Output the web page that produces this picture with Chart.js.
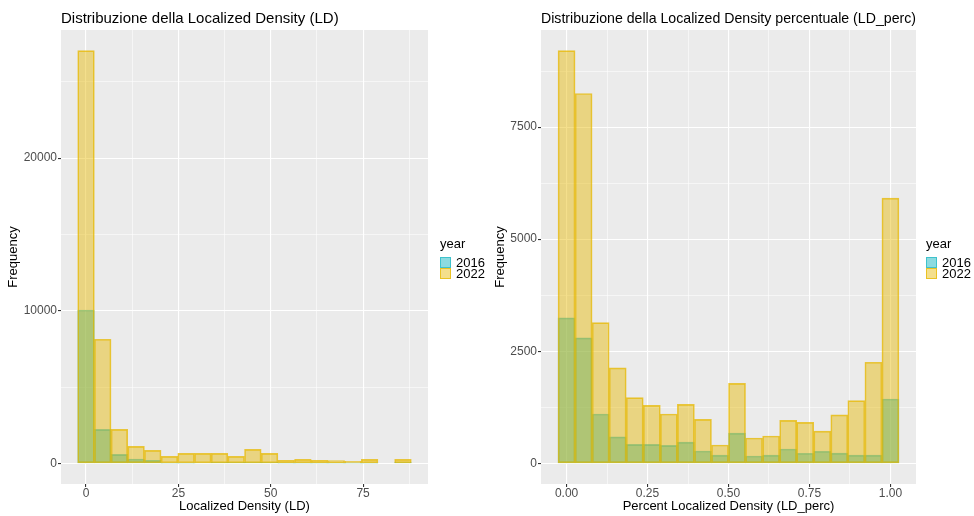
<!DOCTYPE html>
<html>
<head>
<meta charset="utf-8">
<script src="https://cdn.jsdelivr.net/npm/chart.js@4"></script>
<style>
  body { margin: 0; background: #fff; width: 974px; height: 516px; overflow: hidden;
         font-family: "Liberation Sans", Arial, sans-serif; }
  .panel { position: absolute; top: 0; width: 487px; height: 516px; }
  .legend { position: absolute; font-size: 13px; color: #000; line-height: 11px; }
  .legend .ttl { margin-bottom: 8px; }
  .legend .row { display: flex; align-items: center; height: 11px; }
  .legend .key { width: 11px; height: 11px; margin-right: 5px; box-sizing: border-box; }
</style>
</head>
<body>
<div class="panel" style="left:0"><canvas id="ldChart"></canvas></div>
<div class="panel" style="left:487px"><canvas id="percChart"></canvas></div>

<div class="legend" style="left:440px; top:238px">
  <div class="ttl">year</div>
  <div class="row"><span class="key k2016"></span>2016</div>
  <div class="row"><span class="key k2022"></span>2022</div>
</div>
<div class="legend" style="left:926px; top:238px">
  <div class="ttl">year</div>
  <div class="row"><span class="key k2016"></span>2016</div>
  <div class="row"><span class="key k2022"></span>2022</div>
</div>

<script>
const years = ["2016", "2022"];

// LD histogram (20 bins, centres)
const ldBins = [0, 4.52, 9.03, 13.55, 18.06, 22.58, 27.1, 31.61, 36.13, 40.64,
                45.16, 49.68, 54.19, 58.71, 63.22, 67.74, 72.26, 76.77, 81.29, 85.8];
const ld2016 = [10050, 2230, 590, 285, 200, 20, 20, 30, 65, 65,
                90, 65, 10, 10, 10, 10, 10, 10, 0, 90];
const ld2022 = [27040, 8130, 2230, 1115, 850, 460, 655, 655, 655, 460,
                920, 655, 200, 260, 200, 175, 130, 260, 0, 260];

// LD_perc histogram (20 bins, centres)
const percBins = [0, 0.0526, 0.1053, 0.1579, 0.2105, 0.2632, 0.3158, 0.3684, 0.4211, 0.4737,
                  0.5263, 0.5789, 0.6316, 0.6842, 0.7368, 0.7895, 0.8421, 0.8947, 0.9474, 1];
const perc2016 = [3245, 2800, 1100, 590, 425, 425, 400, 475, 275, 185,
                  675, 165, 185, 320, 225, 270, 230, 185, 185, 1435];
const perc2022 = [9205, 8250, 3140, 2130, 1465, 1295, 1100, 1315, 980, 410,
                  1785, 565, 610, 960, 915, 720, 1080, 1400, 2255, 5915];

// tick labels (major) and minor grid positions
const ldXTicks = [0, 25, 50, 75];
const ldXMinor = [12.5, 37.5, 62.5, 87.5];
const ldYTicks = [0, 10000, 20000];
const ldYMinor = [5000, 15000, 25000];
const percXTicks = [0, 0.25, 0.5, 0.75, 1];
const percXMinor = [0.125, 0.375, 0.625, 0.875];
const percYTicks = [0, 2500, 5000, 7500];
const percYMinor = [1250, 3750, 6250, 8750];

const FONT = '"Liberation Sans", Arial, sans-serif';
const fill = { "2016": "rgba(0,175,187,0.45)", "2022": "rgba(231,184,0,0.45)" };
const line = { "2016": "rgba(0,175,187,0.55)", "2022": "rgba(231,184,0,0.75)" };

document.querySelectorAll(".k2016").forEach(el => {
  el.style.background = fill["2016"]; el.style.border = "1px solid " + line["2016"];
});
document.querySelectorAll(".k2022").forEach(el => {
  el.style.background = fill["2022"]; el.style.border = "1px solid " + line["2022"];
});

// grey panel behind the grid
const panelBg = {
  id: "panelBg",
  beforeDraw(chart) {
    const { ctx, chartArea: a } = chart;
    ctx.save();
    ctx.fillStyle = "#EBEBEB";
    ctx.fillRect(a.left, a.top, a.right - a.left, a.bottom - a.top);
    ctx.restore();
  }
};

function makeAxis(major, minor, min, max, fmt, title, isX, size) {
  return {
    type: "linear",
    min: min,
    max: max,
    offset: false,
    afterBuildTicks: axis => {
      axis.ticks = major.concat(minor).sort((a, b) => a - b).map(v => ({ value: v }));
    },
    afterFit: axis => {
      if (isX) axis.height = size; else axis.width = size;
    },
    grid: {
      offset: false,
      color: "#ffffff",
      lineWidth: c => major.includes(c.tick && c.tick.value) ? 1.1 : 0.55,
      tickColor: c => major.includes(c.tick && c.tick.value) ? "#333333" : "rgba(0,0,0,0)",
      tickLength: 3
    },
    border: { display: false },
    ticks: {
      autoSkip: false,
      maxRotation: 0,
      padding: 1,
      color: "#4D4D4D",
      font: { family: FONT, size: 12, lineHeight: 1 },
      callback: v => major.includes(v) ? fmt(v) : ""
    },
    title: {
      display: true,
      text: title,
      color: "#000",
      font: { family: FONT, size: 13 },
      padding: isX ? { top: 0, bottom: 1.5 } : { top: 6, bottom: 0 }
    }
  };
}

function makeChart(id, titleText, bins, s2016, s2022, xMajor, xMinor, yMajor, yMinor,
                   xFmt, xTitle, yWidth, padRight) {
  const half = (bins[1] - bins[0]) / 2;
  const lo = bins[0] - half, hi = bins[bins.length - 1] + half;
  const xPad = (hi - lo) * 0.05;
  const top = Math.max(...s2022, ...s2016);
  const series = [s2016, s2022];

  return new Chart(document.getElementById(id), {
    type: "bar",
    data: {
      labels: bins,
      datasets: years.map((y, i) => ({
        label: y,
        data: bins.map((b, j) => ({ x: b, y: series[i][j] })),
        backgroundColor: fill[y],
        borderColor: line[y],
        borderWidth: 1,
        borderSkipped: false,
        grouped: false,
        barPercentage: 1,
        categoryPercentage: 1,
        order: i === 0 ? 1 : 0
      }))
    },
    options: {
      responsive: false,
      animation: false,
      maintainAspectRatio: false,
      layout: { padding: { left: 0, right: padRight, top: 0, bottom: 0 } },
      plugins: {
        legend: { display: false },
        tooltip: { enabled: false },
        title: {
          display: true,
          text: titleText,
          align: "start",
          fullSize: false,
          color: "#000",
          font: { family: FONT, size: 15, weight: "normal" },
          padding: { top: 10, bottom: 2 }
        }
      },
      scales: {
        x: makeAxis(xMajor, xMinor, lo - xPad, hi + xPad, xFmt, xTitle, true, 32),
        y: makeAxis(yMajor, yMinor, -top * 0.05, top * 1.05, v => String(v), "Frequency", false, yWidth)
      }
    },
    plugins: [panelBg]
  });
}

for (const id of ["ldChart", "percChart"]) {
  const c = document.getElementById(id);
  c.width = 487; c.height = 516;
}

makeChart("ldChart", "Distribuzione della Localized Density (LD)",
  ldBins, ld2016, ld2022, ldXTicks, ldXMinor, ldYTicks, ldYMinor,
  v => String(v), "Localized Density (LD)", 61, 59);

makeChart("percChart", "Distribuzione della Localized Density percentuale (LD_perc)",
  percBins, perc2016, perc2022, percXTicks, percXMinor, percYTicks, percYMinor,
  v => v.toFixed(2), "Percent Localized Density (LD_perc)", 54, 58);
</script>
</body>
</html>
